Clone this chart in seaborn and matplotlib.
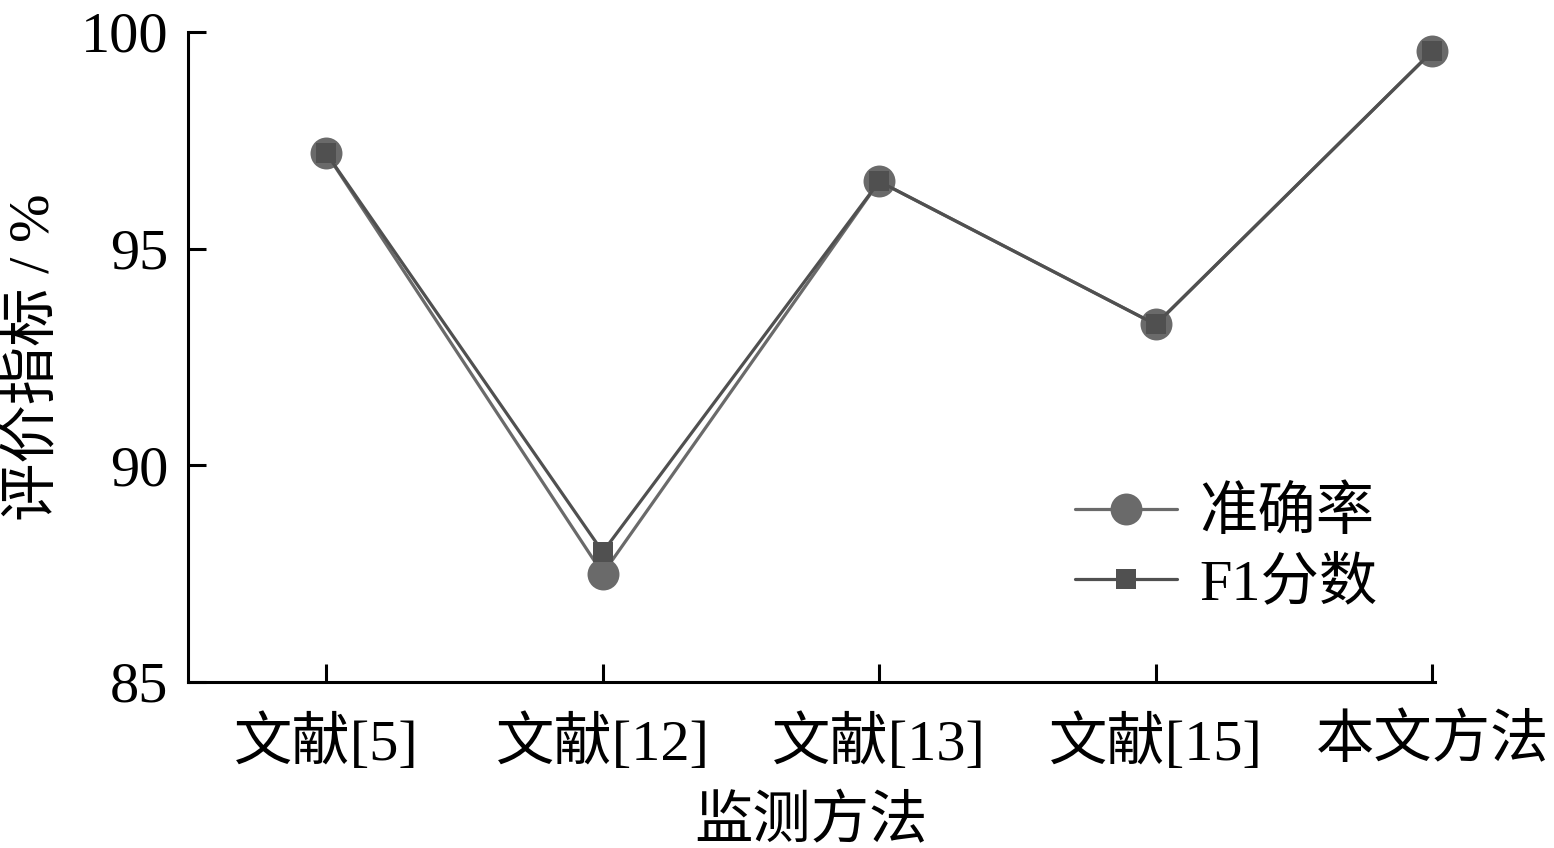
import matplotlib
matplotlib.use('Agg')
import matplotlib.pyplot as plt
import seaborn as sns
import pandas as pd

# values
methods = ['文献[5]', '文献[12]', '文献[13]', '文献[15]', '本文方法']
accuracy = [97.2, 87.5, 96.55, 93.25, 99.55]
f1_score = [97.2, 88.0, 96.55, 93.25, 99.55]
series_names = ['准确率', 'F1分数']
y_ticks = [85, 90, 95, 100]

sns.set_theme(style='white')
plt.rcParams['font.family'] = ['Liberation Serif', 'Noto Sans CJK SC']
plt.rcParams['axes.unicode_minus'] = False

df = pd.DataFrame({
    '监测方法': methods * 2,
    '评价指标': accuracy + f1_score,
    '系列': [series_names[0]] * len(methods) + [series_names[1]] * len(methods),
})
df['pos'] = list(range(len(methods))) * 2

fig = plt.figure(figsize=(15.54, 8.48), dpi=100)
ax = fig.add_axes([0.121, 0.1958, 0.8024, 0.7665])

sns.lineplot(data=df, x='pos', y='评价指标', hue='系列', style='系列',
             palette={'准确率': '#6a6a6a', 'F1分数': '#505050'},
             markers={'准确率': 'o', 'F1分数': 's'}, dashes=False,
             markersize=23, linewidth=2.3, markeredgewidth=0, ax=ax)
# squares a bit smaller than circles, and keep end markers unclipped
for line in ax.lines:
    line.set_clip_on(False)
    if line.get_marker() == 's':
        line.set_markersize(14)

ax.set_xlim(-0.5, 4.01)
ax.set_ylim(85, 100)
ax.set_xticks(range(len(methods)))
ax.set_xticklabels(methods)
ax.set_yticks(y_ticks)
ax.tick_params(axis='both', direction='in', length=13, width=2.2, color='black',
               labelsize=42, labelcolor='black', bottom=True, left=True)
ax.tick_params(axis='x', pad=23)
ax.tick_params(axis='y', pad=14)
for side in ['top', 'right']:
    ax.spines[side].set_visible(False)
for side in ['left', 'bottom']:
    ax.spines[side].set_color('black')
    ax.spines[side].set_linewidth(2.2)

ax.set_xlabel('监测方法', fontsize=42, color='black', labelpad=18)
ax.set_ylabel('评价指标 / %', fontsize=42, color='black', labelpad=14)

handles, labels = ax.get_legend_handles_labels()
for h in handles:
    if h.get_marker() == 's':
        h.set_markersize(14)
leg = ax.legend(handles, labels, loc='center left', bbox_to_anchor=(0.688, 0.205),
                frameon=False, fontsize=42, handlelength=1.75, handletextpad=0.38,
                labelspacing=0.28, borderpad=0)
for t in leg.get_texts():
    t.set_color('black')

fig.savefig('out.png', dpi=100)
